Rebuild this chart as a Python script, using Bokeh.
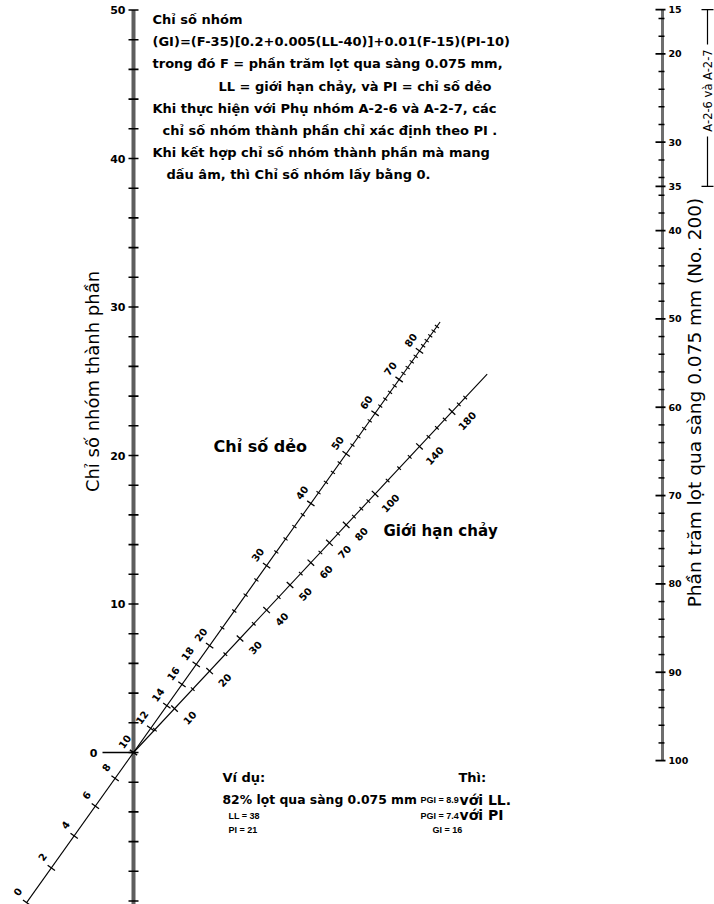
import math
from bokeh.plotting import figure
from bokeh.models import Range1d
from bokeh.core.properties import value
from bokeh.embed import file_html
from bokeh.resources import INLINE

# ---------------- data ----------------
GI_TICKS = list(range(-10, 51, 2))          # left axis (group index), minor every 2
GI_LABELS = [10, 20, 30, 40, 50]
F_TICKS = [15] + list(range(16, 101, 2)) + [35]   # right axis (% passing No. 200)
F_LABELS = [15, 20, 30, 35, 40, 50, 60, 70, 80, 90, 100]
PI_LABELS = [0, 2, 4, 6, 8, 10, 12, 14, 16, 18, 20, 30, 40, 50, 60, 70, 80]
PI_MINOR = [22, 24, 26, 28, 32, 34, 36, 38, 42, 44, 46, 48, 52, 54, 56, 58,
            62, 64, 66, 68, 72, 74, 76, 78, 82, 84, 86, 88, 90]
PI_MAX = 92
LL_LABELS = [10, 20, 30, 40, 50, 60, 70, 80, 100, 140, 180]
LL_MINOR = [5, 15, 25, 35, 45, 55, 65, 75, 85, 90, 95, 110, 120, 130, 150,
            160, 170, 190, 200]
LL_MAX = 240
TEXT_LINES = [
    "Chỉ số nhóm",
    "(GI)=(F-35)[0.2+0.005(LL-40)]+0.01(F-15)(PI-10)",
    "trong đó F = phần trăm lọt qua sàng 0.075 mm,",
    "LL = giới hạn chảy, và PI = chỉ số dẻo",
    "Khi thực hiện với Phụ nhóm A-2-6 và A-2-7, các",
    "chỉ số nhóm thành phần chỉ xác định theo PI .",
    "Khi kết hợp chỉ số nhóm thành phần mà mang",
    "dấu âm, thì Chỉ số nhóm lấy bằng 0.",
]
TEXT_INDENT = [152, 152, 152, 218, 152, 162, 152, 166]
EX_F, EX_LL, EX_PI = 82, 38, 21
EX_GI_LL, EX_GI_PI, EX_GI = 8.9, 7.4, 16

# ---------------- geometry ----------------
PX_X = 529.0     # px between GI axis and F axis
PX_GI = 14.85    # px per GI unit
F_Y15 = (752 - 9.2) / PX_GI       # GI-height of F=15
F_K = 8.834 / PX_GI               # GI-units per F unit


def f_y(F):
    return F_Y15 - F_K * (F - 15)


def pi_pt(v):
    r = 0.01 * (v - 10) / F_K
    t = r / (1 + r)
    return t, t * f_y(15)


def ll_pt(v):
    r = 0.005 * v / F_K
    s = r / (1 + r)
    return s, s * f_y(35)


def rx(x):  # layout pixel -> data
    return (x - 133) / PX_X


def ry(y):
    return (752 - y) / PX_GI


BOLD = value("DejaVu Sans")
p = figure(width=714, height=904, x_range=Range1d(rx(0), rx(714)),
           y_range=Range1d(ry(904), ry(0)), output_backend="svg",
           toolbar_location=None, x_axis_type=None, y_axis_type=None,
           min_border=0)
p.outline_line_color = None
p.background_fill_color = "white"

# ---------- left GI axis ----------
p.segment(x0=[0], y0=[-10.5], x1=[0], y1=[50], line_width=4, line_color="#5e5e5e")
p.segment(x0=[-5 / PX_X] * len(GI_TICKS), y0=GI_TICKS, x1=[5 / PX_X] * len(GI_TICKS),
          y1=GI_TICKS, line_width=1.6, line_color="black")
p.text(x=[rx(125)] * len(GI_LABELS), y=GI_LABELS, text=[str(v) for v in GI_LABELS],
       text_align="right", text_baseline="middle", text_font=BOLD,
       text_font_style="bold", text_font_size="11px", text_color="black")
p.segment(x0=[rx(102)], y0=[0], x1=[0], y1=[0], line_width=1.5, line_color="black")
p.text(x=[rx(93)], y=[0], text=["0"], text_align="center", text_baseline="middle",
       text_font=BOLD, text_font_style="bold", text_font_size="11px")
p.text(x=[rx(92)], y=[ry(381)], text=["Chỉ số nhóm thành phần"], angle=math.pi / 2,
       text_align="center", text_baseline="middle", text_font=BOLD,
       text_font_size="18px", text_color="black")

# ---------- right F axis ----------
p.segment(x0=[1], y0=[f_y(15)], x1=[1], y1=[f_y(100)], line_width=3, line_color="#6e6e6e")
minor_f = [v for v in F_TICKS if v not in F_LABELS]
p.segment(x0=[1 - 4 / PX_X] * len(minor_f), y0=[f_y(v) for v in minor_f],
          x1=[1 + 2 / PX_X] * len(minor_f), y1=[f_y(v) for v in minor_f],
          line_width=1.5, line_color="black")
p.segment(x0=[1 - 7 / PX_X] * len(F_LABELS), y0=[f_y(v) for v in F_LABELS],
          x1=[1 + 3 / PX_X] * len(F_LABELS), y1=[f_y(v) for v in F_LABELS],
          line_width=1.8, line_color="black")
p.text(x=[rx(668)] * len(F_LABELS), y=[f_y(v) for v in F_LABELS],
       text=[str(v) for v in F_LABELS], text_align="left", text_baseline="middle",
       text_font=BOLD, text_font_style="bold", text_font_size="9.5px")
p.text(x=[rx(694)], y=[ry(402)], text=["Phần trăm lọt qua sàng 0.075 mm (No. 200)"],
       angle=math.pi / 2, text_align="center", text_baseline="middle",
       text_font=BOLD, text_font_size="18.5px")

# bracket for A-2-6 and A-2-7 (F 15..35)
bx = rx(707)
tc = ry(90)
gap = 46 / PX_GI
p.segment(x0=[bx, bx], y0=[f_y(15), tc - gap], x1=[bx, bx], y1=[tc + gap, f_y(35)],
          line_width=1.2, line_color="black")
p.segment(x0=[rx(701), rx(701)], y0=[f_y(15), f_y(35)], x1=[rx(713), rx(713)],
          y1=[f_y(15), f_y(35)], line_width=1.2, line_color="black")
p.text(x=[bx], y=[tc], text=["A-2-6 và A-2-7"], angle=math.pi / 2, text_align="center",
       text_baseline="middle", text_font=BOLD, text_font_size="11.5px")


# ---------- diagonal scales ----------
def draw_scale(ptf, vmax, vmin, labels, minor, off):
    x0, y0 = ptf(vmin)
    x1, y1 = ptf(vmax)
    p.segment(x0=[x0], y0=[y0], x1=[x1], y1=[y1], line_width=1.1, line_color="black")
    ux, uy = (x1 - x0) * PX_X, (y1 - y0) * PX_GI
    n = math.hypot(ux, uy)
    nx, ny = -uy / n, ux / n
    ang = math.atan2(uy, ux)
    for vals, h, lw in ((labels, 4.5, 1.3), (minor, 2.5, 1.1)):
        pts = [ptf(v) for v in vals]
        p.segment(x0=[a - nx * h / PX_X for a, b in pts], y0=[b - ny * h / PX_GI for a, b in pts],
                  x1=[a + nx * h / PX_X for a, b in pts], y1=[b + ny * h / PX_GI for a, b in pts],
                  line_width=lw, line_color="black")
    pts = [ptf(v) for v in labels]
    p.text(x=[a + off[0] / PX_X for a, b in pts], y=[b - off[1] / PX_GI for a, b in pts],
           text=[str(v) for v in labels], angle=ang, text_align="center",
           text_baseline="middle", text_font=BOLD, text_font_style="bold",
           text_font_size="10px")


draw_scale(pi_pt, PI_MAX, 0, PI_LABELS, PI_MINOR, (-9, -11))
draw_scale(ll_pt, LL_MAX, 0, LL_LABELS, LL_MINOR, (15, 9))

p.text(x=[rx(213)], y=[ry(446)], text=["Chỉ số dẻo"], text_align="left",
       text_baseline="middle", text_font=BOLD, text_font_style="bold", text_font_size="16px")
p.text(x=[rx(383)], y=[ry(530)], text=["Giới hạn chảy"], text_align="left",
       text_baseline="middle", text_font=BOLD, text_font_style="bold", text_font_size="15px")

# ---------- explanatory text ----------
p.text(x=[rx(v) for v in TEXT_INDENT], y=[ry(19 + 22.2 * i) for i in range(len(TEXT_LINES))],
       text=TEXT_LINES, text_align="left", text_baseline="middle", text_font=BOLD,
       text_font_style="bold", text_font_size="13px")

# ---------- example ----------
p.text(x=[rx(222), rx(458)], y=[ry(777), ry(777)], text=["Ví dụ:", "Thì:"],
       text_align="left", text_baseline="middle", text_font=BOLD,
       text_font_style="bold", text_font_size="13px")
p.text(x=[rx(222)], y=[ry(799)], text=["%d%% lọt qua sàng 0.075 mm" % EX_F],
       text_align="left", text_baseline="middle", text_font=BOLD,
       text_font_style="bold", text_font_size="12.4px")
SMALL = value("Liberation Sans")
p.text(x=[rx(228), rx(228), rx(420), rx(420), rx(432)],
       y=[ry(815), ry(829), ry(799), ry(815), ry(829)],
       text=["LL = %d" % EX_LL, "PI = %d" % EX_PI, "PGI = %.1f" % EX_GI_LL,
             "PGI = %.1f" % EX_GI_PI, "GI = %d" % EX_GI],
       text_align="left", text_baseline="middle", text_font=SMALL,
       text_font_style="bold", text_font_size="9px")
p.text(x=[rx(459), rx(459)], y=[ry(799), ry(814)], text=["với LL.", "với PI"],
       text_align="left", text_baseline="middle", text_font=BOLD,
       text_font_style="bold", text_font_size="14px")

open("out.html", "w").write(file_html(p, INLINE))
